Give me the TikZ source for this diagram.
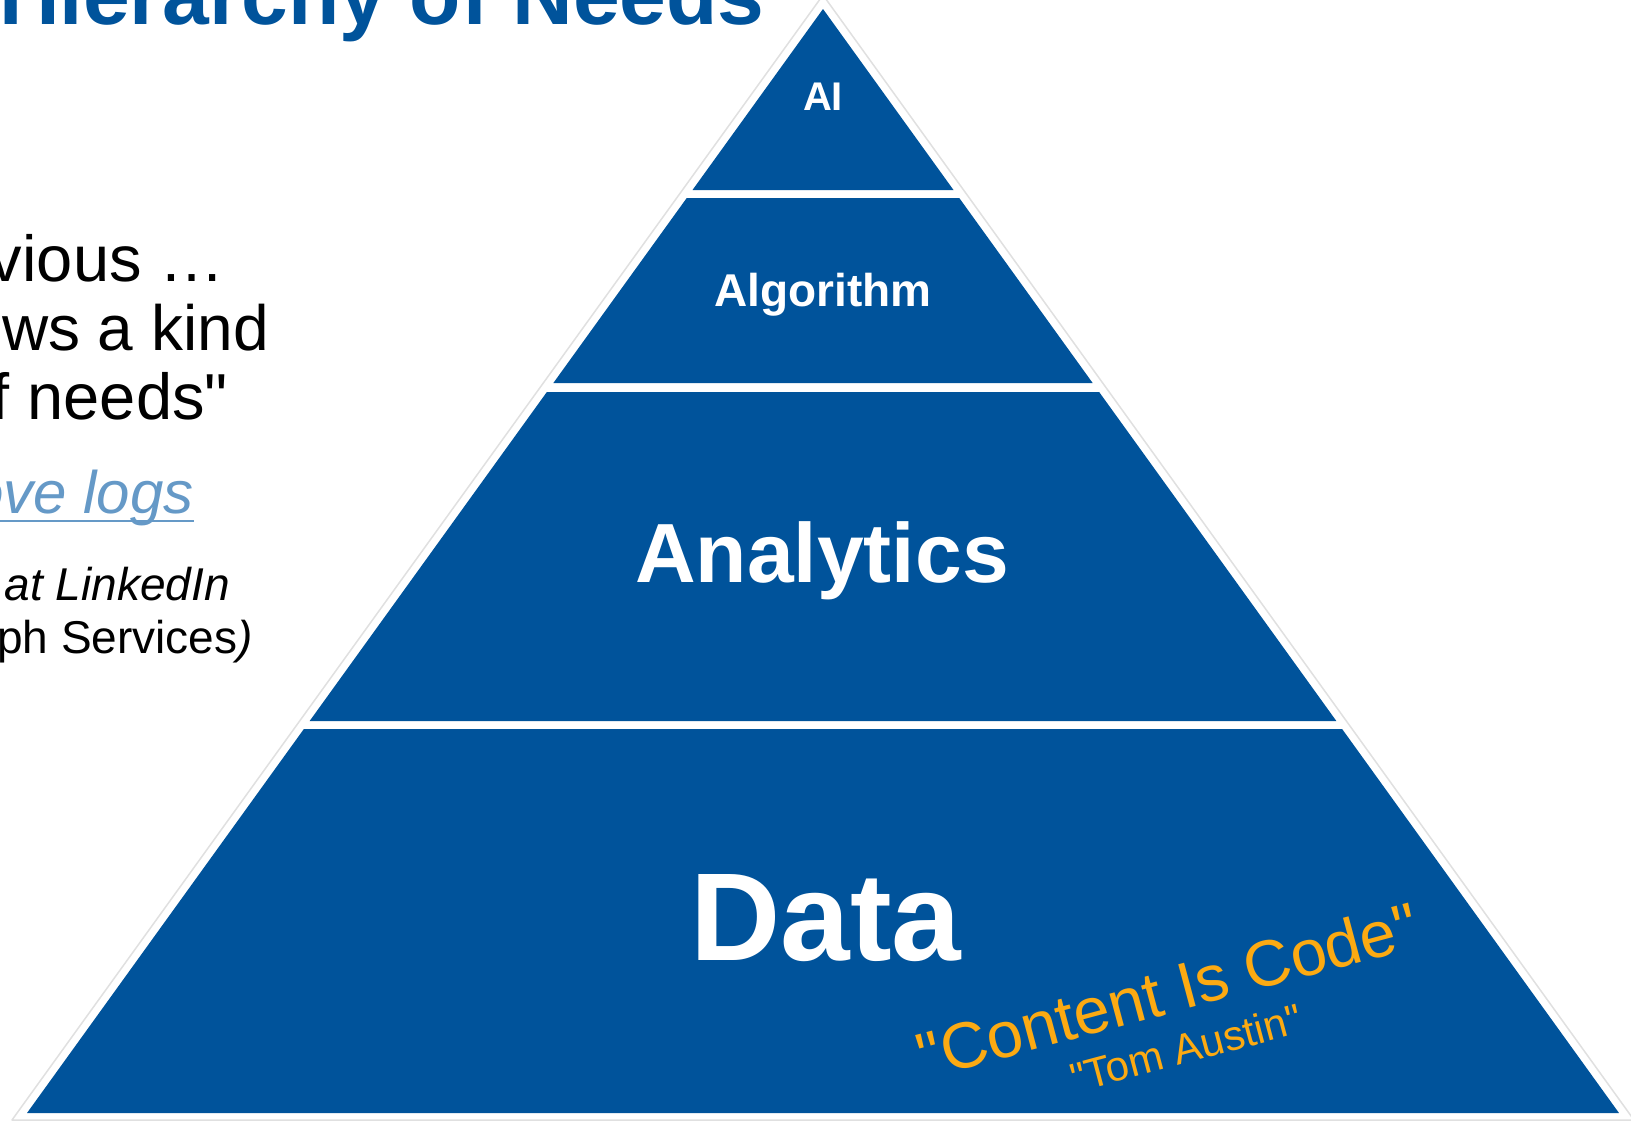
\documentclass[tikz,border=0pt]{standalone}
\usepackage{fontspec}
\setmainfont{Liberation Sans}[Ligatures=TeXOff]
\definecolor{pyrblue}{RGB}{0,83,155}
\definecolor{quoteorange}{RGB}{252,170,18}
\definecolor{linkblue}{RGB}{101,153,199}

\begin{document}
\begin{tikzpicture}[x=1pt,y=-1pt,
  layer/.style = {fill=pyrblue},
  lbl/.style = {text=white,anchor=base,inner sep=0pt,font=\bfseries\fontsize{#1}{#1}\selectfont},
  body/.style = {anchor=base east,inner sep=0pt,font=\fontsize{#1}{#1}\selectfont},
  heading/.style = {text=pyrblue,anchor=base east,inner sep=0pt,font=\bfseries\fontsize{84}{84}\selectfont},
  motto/.style = {text=quoteorange,rotate=15,inner sep=0pt,font=\fontsize{#1}{#1}\selectfont}]
\useasboundingbox (0,0) rectangle (1631,1122);
% title, cut by the page
\node[heading] (title) at (765,24) {Hierarchy of Needs};
% text on the left, cut by the page
\node[body=65] (l1) at (225,281) {vious …};
\node[body=64] (l2) at (269,350) {ows a kind};
\node[body=65] (l3) at (228,419) {f needs"};
\node[body=60,text=linkblue] (link) at (194,513) {\itshape ove logs};
\draw[linkblue,line width=2.5pt] ([yshift=-8pt]link.base west) -- ([yshift=-8pt]link.base east);
\node[body=46] (l5) at (230,600) {\itshape at LinkedIn};
\node[body=46] (l6) at (253,653) {ph Services\textit{)}};
% pyramid
\draw[draw=black!12,line width=1.5pt,fill=white,line join=round] (823,-5) -- (1634,1120) -- (12,1120) -- cycle;
\foreach \ya/\yb in {9/190, 198/383, 392/721, 729/1113}
    \fill[layer] ({823-0.721*(\ya-9)},\ya) -- ({823+0.721*(\ya-9)},\ya) -- ({823+0.721*(\yb-9)},\yb) -- ({823-0.721*(\yb-9)},\yb) -- cycle;
\node[lbl=40] (ai) at (823,110) {AI};
\node[lbl=46] (algo) at (823,306) {Algorithm};
\node[lbl=84] (analytics) at (822,582) {Analytics};
\node[lbl=125] (data) at (826,960) {Data};
\node[motto=65] (motto) at (1168,990) {"Content Is Code"};
\node[motto=42] (author) at (1186,1048) {"Tom Austin"};
\end{tikzpicture}
\end{document}
